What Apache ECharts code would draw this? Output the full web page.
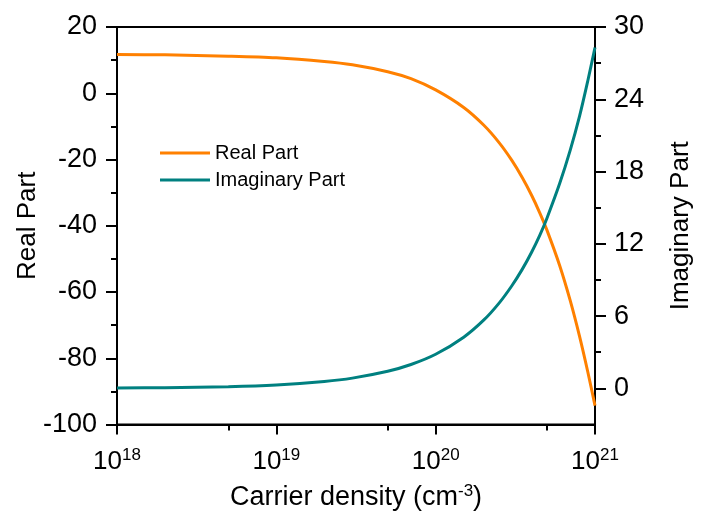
<!DOCTYPE html>
<html><head><meta charset="utf-8">
<script src="https://cdn.jsdelivr.net/npm/echarts@6/dist/echarts.min.js"></script>
<style>html,body{margin:0;padding:0;background:#fff}#c{width:702px;height:516px}</style>
</head><body><div id="c"></div>
<script>
// carrier density (cm^-3)
const density = [1e18, 2e18, 5e18, 1e19, 2e19, 3e19, 5e19, 7e19, 1e20, 1.5e20, 2e20, 2.5e20, 3e20, 3.5e20, 4e20, 4.5e20, 5e20, 6e20, 7e20, 8e20, 9e20, 1e21];
const realPart = [11.7, 11.6, 11.2, 10.7, 9.6, 8.6, 6.5, 4.4, 1.0, -4.3, -9.6, -14.9, -20.2, -25.5, -30.8, -36.1, -41.4, -52.0, -62.7, -73.4, -84.0, -94.3];
const imagPart = [0.03, 0.06, 0.14, 0.28, 0.57, 0.85, 1.42, 1.98, 2.83, 4.25, 5.66, 7.08, 8.5, 9.9, 11.3, 12.7, 14.15, 17.0, 19.8, 22.6, 25.5, 28.3];
const xMinorTicks = [5e18, 5e19, 5e20];
const imagMajorTicks = [0, 6, 12, 18, 24, 30];
const imagMinorTicks = [3, 9, 15, 21, 27];
const seriesNames = ['Real Part', 'Imaginary Part'];

const FONT = 'Liberation Sans, Arial, sans-serif';
const chart = echarts.init(document.getElementById('c'), null, {renderer: 'canvas'});
const axisLineStyle = {color: '#000', width: 2};

chart.setOption({
  animation: false,
  backgroundColor: '#fff',
  grid: {left: 117, right: 104, top: 27, bottom: 88, show: true, borderColor: '#000', borderWidth: 2, containLabel: false},
  legend: {
    orient: 'vertical', left: 160, top: 143, padding: 0, itemGap: 7,
    itemWidth: 50, itemHeight: 3, icon: 'rect',
    textStyle: {fontFamily: FONT, fontSize: 20, color: '#000', lineHeight: 20},
    data: seriesNames
  },
  xAxis: [{
    type: 'log', logBase: 10, min: 1e18, max: 1e21, interval: 1, splitNumber: 3, position: 'bottom',
    name: '{t|Carrier density (cm}{s|-3}{t|)}', nameLocation: 'middle', nameGap: 58, nameMoveOverlap: false,
    nameTextStyle: {rich: {
      t: {fontFamily: FONT, fontSize: 27, color: '#000', lineHeight: 30},
      s: {fontFamily: FONT, fontSize: 17, color: '#000', lineHeight: 17, verticalAlign: 'top'}
    }},
    axisLine: {show: true, onZero: false, lineStyle: axisLineStyle},
    axisTick: {show: true, inside: false, length: 10, lineStyle: axisLineStyle},
    axisLabel: {
      margin: 22, showMinLabel: true, showMaxLabel: true,
      formatter: v => '{b|10}{s|' + Math.round(Math.log10(v)) + '}',
      rich: {
        b: {fontFamily: FONT, fontSize: 26, color: '#000', lineHeight: 30},
        s: {fontFamily: FONT, fontSize: 17, color: '#000', lineHeight: 17, verticalAlign: 'top'}
      }
    },
    splitLine: {show: false}
  }, {
    type: 'log', logBase: 10, min: 1e18, max: 1e21, position: 'bottom',
    axisLine: {show: false, onZero: false},
    axisTick: {show: true, inside: false, length: 6, lineStyle: axisLineStyle, customValues: xMinorTicks},
    axisLabel: {show: false},
    splitLine: {show: false}
  }],
  yAxis: [{
    type: 'value', min: -100, max: 20, interval: 20, position: 'left',
    name: 'Real Part', nameLocation: 'middle', nameGap: 76, nameRotate: 90, nameMoveOverlap: false,
    nameTextStyle: {fontFamily: FONT, fontSize: 26, color: '#000'},
    axisLine: {show: true, onZero: false, lineStyle: axisLineStyle},
    axisTick: {show: true, inside: false, length: 11, lineStyle: axisLineStyle},
    minorTick: {show: true, splitNumber: 2, length: 6, lineStyle: axisLineStyle},
    axisLabel: {margin: 20, fontFamily: FONT, fontSize: 27, color: '#000'},
    splitLine: {show: false}
  }, {
    type: 'value', min: -3, max: 30, position: 'right',
    name: 'Imaginary Part', nameLocation: 'middle', nameGap: 73, nameRotate: 90, nameMoveOverlap: false,
    nameTextStyle: {fontFamily: FONT, fontSize: 26, color: '#000'},
    axisLine: {show: true, onZero: false, lineStyle: axisLineStyle},
    axisTick: {show: true, inside: false, length: 11, lineStyle: axisLineStyle, customValues: imagMajorTicks},
    axisLabel: {margin: 19, fontFamily: FONT, fontSize: 27, color: '#000', customValues: imagMajorTicks},
    splitLine: {show: false}
  }, {
    type: 'value', min: -3, max: 30, position: 'right',
    axisLine: {show: false, onZero: false},
    axisTick: {show: true, inside: false, length: 6, lineStyle: axisLineStyle, customValues: imagMinorTicks},
    axisLabel: {show: false},
    splitLine: {show: false}
  }],
  series: [{
    name: seriesNames[0], type: 'line', xAxisIndex: 0, yAxisIndex: 0,
    data: density.map((d, i) => [d, realPart[i]]),
    showSymbol: false, smooth: 0.3, color: '#FF8000',
    lineStyle: {width: 3, color: '#FF8000'}
  }, {
    name: seriesNames[1], type: 'line', xAxisIndex: 0, yAxisIndex: 1,
    data: density.map((d, i) => [d, imagPart[i]]),
    showSymbol: false, smooth: 0.3, color: '#008080',
    lineStyle: {width: 3, color: '#008080'}
  }]
});
</script>
</body></html>
